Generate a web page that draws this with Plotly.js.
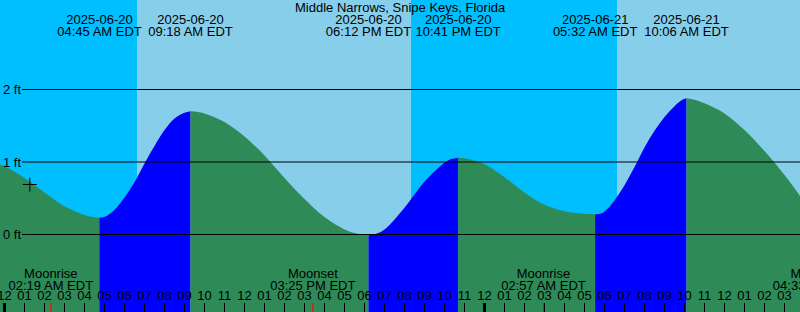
<!DOCTYPE html>
<html>
<head>
<meta charset="utf-8">
<script src="https://cdn.plot.ly/plotly-3.0.1.min.js"></script>
<style>html,body{margin:0;padding:0;background:#fff;}#chart{width:800px;height:312px;}</style>
</head>
<body>
<div id="chart"></div>
<script>
// ---------- data ----------
const stationName = 'Middle Narrows, Snipe Keys, Florida';

// tide extremes (labels at top)
const tideEventTimes = ['2025-06-20 04:45','2025-06-20 09:18','2025-06-20 18:12','2025-06-20 22:41','2025-06-21 05:32','2025-06-21 10:06'];
const tideEventDates = ['2025-06-20','2025-06-20','2025-06-20','2025-06-20','2025-06-21','2025-06-21'];
const tideEventClock = ['04:45 AM EDT','09:18 AM EDT','06:12 PM EDT','10:41 PM EDT','05:32 AM EDT','10:06 AM EDT'];

// moon events (labels at bottom)
const moonTimes = ['2025-06-20 02:19','2025-06-20 15:25','2025-06-21 02:57','2025-06-21 16:33'];
const moonNames = ['Moonrise','Moonset','Moonrise','Moonset'];
const moonClock = ['02:19 AM EDT','03:25 PM EDT','02:57 AM EDT','04:33 PM EDT'];

// sun: boundaries of night/day bands
const bandStarts = ['2025-06-19 23:00','2025-06-20 06:37:30','2025-06-20 20:19:30','2025-06-21 06:37:30'];
const bandEnds   = ['2025-06-20 06:37:30','2025-06-20 20:19:30','2025-06-21 06:37:30','2025-06-21 17:00'];
const bandIsDay  = [false, true, false, true];

const midnights = ['2025-06-20 00:00','2025-06-21 00:00'];
const heightTicks = [0, 1, 2];

// tide curve, split at each extreme (rising = flood, falling = ebb)
const segTimes = [
  ['2025-06-19 23:45','2025-06-20 00:00','2025-06-20 01:00','2025-06-20 02:00','2025-06-20 03:00','2025-06-20 04:00','2025-06-20 04:25','2025-06-20 04:45'],
  ['2025-06-20 04:45','2025-06-20 05:05','2025-06-20 05:30','2025-06-20 06:00','2025-06-20 06:30','2025-06-20 07:00','2025-06-20 07:30','2025-06-20 08:00','2025-06-20 08:30','2025-06-20 09:00','2025-06-20 09:18'],
  ['2025-06-20 09:18','2025-06-20 09:40','2025-06-20 10:00','2025-06-20 11:00','2025-06-20 12:00','2025-06-20 13:00','2025-06-20 14:00','2025-06-20 15:00','2025-06-20 16:00','2025-06-20 17:00','2025-06-20 17:40','2025-06-20 18:12'],
  ['2025-06-20 18:12','2025-06-20 18:35','2025-06-20 19:00','2025-06-20 20:00','2025-06-20 21:00','2025-06-20 22:00','2025-06-20 22:20','2025-06-20 22:41'],
  ['2025-06-20 22:41','2025-06-20 23:00','2025-06-21 00:00','2025-06-21 01:00','2025-06-21 02:00','2025-06-21 03:00','2025-06-21 04:00','2025-06-21 05:00','2025-06-21 05:32'],
  ['2025-06-21 05:32','2025-06-21 05:50','2025-06-21 06:10','2025-06-21 06:30','2025-06-21 07:00','2025-06-21 07:30','2025-06-21 08:00','2025-06-21 08:30','2025-06-21 09:00','2025-06-21 09:30','2025-06-21 09:50','2025-06-21 10:06'],
  ['2025-06-21 10:06','2025-06-21 10:30','2025-06-21 11:00','2025-06-21 12:00','2025-06-21 13:00','2025-06-21 14:00','2025-06-21 15:00','2025-06-21 15:50']
];
const segHeights = [
  [0.97,0.94,0.78,0.58,0.39,0.27,0.24,0.23],
  [0.23,0.25,0.34,0.51,0.72,0.98,1.22,1.44,1.60,1.68,1.70],
  [1.70,1.69,1.67,1.55,1.35,1.09,0.78,0.49,0.24,0.07,0.01,-0.01],
  [-0.01,0.01,0.07,0.37,0.73,0.99,1.04,1.06],
  [1.06,1.05,0.97,0.79,0.58,0.41,0.32,0.285,0.28],
  [0.28,0.29,0.36,0.47,0.68,0.93,1.20,1.43,1.62,1.77,1.85,1.88],
  [1.88,1.86,1.81,1.67,1.44,1.15,0.82,0.51]
];
const segRising = [false,true,false,true,false,true,false];

// "+" marker
const markTime = ['2025-06-20 01:16'];
const markHeight = [0.69];

// ---------- styling ----------
const FONT = 'Liberation Sans, Arial, sans-serif';
const NIGHT = '#00BFFF', DAY = '#87CEEB', EBB = '#2E8B57', FLOOD = '#0000FF';
const BOTTOM = -3;

const traces = [];
segTimes.forEach((t, i) => {
  const col = segRising[i] ? FLOOD : EBB;
  traces.push({x:[t[0], t[t.length-1]], y:[BOTTOM, BOTTOM], mode:'lines', line:{width:0}, hoverinfo:'skip', showlegend:false});
  traces.push({x:t, y:segHeights[i], mode:'lines', line:{width:0, shape:'spline', color:col}, fill:'tonexty', fillcolor:col, hoverinfo:'skip', showlegend:false});
});

traces.push({x:markTime, y:markHeight, mode:'markers', marker:{symbol:'cross-thin', size:10, line:{width:1, color:'#000'}}, showlegend:false, hoverinfo:'skip'});

// text rows on a pixel-scaled overlay axis
function textRow(xs, texts, ypx) {
  return {x:xs, y:xs.map(() => ypx), text:texts, mode:'text', textposition:'middle center',
          textfont:{family:FONT, size:13, color:'#000'}, yaxis:'y2', showlegend:false, hoverinfo:'skip', cliponaxis:true};
}
traces.push(textRow(tideEventTimes, tideEventDates, 20.8));
traces.push(textRow(tideEventTimes, tideEventClock, 32.9));
traces.push(textRow(moonTimes, moonNames, 275));
traces.push(textRow(moonTimes, moonClock, 286.5));

const shapes = [];
bandStarts.forEach((s, i) => shapes.push({type:'rect', xref:'x', yref:'paper', x0:s, x1:bandEnds[i], y0:0, y1:1,
  fillcolor: bandIsDay[i] ? DAY : NIGHT, line:{width:0}, layer:'below'}));
heightTicks.forEach(v => shapes.push({type:'line', xref:'paper', yref:'y', x0:0.0275, x1:1, y0:v, y1:v, line:{color:'#000', width:1}, layer:'above'}));
midnights.forEach(m => shapes.push({type:'line', xref:'x', yref:'paper', ysizemode:'pixel', yanchor:0, x0:m, x1:m, y0:0, y1:9, line:{color:'#000', width:3}, layer:'above'}));
moonTimes.forEach(m => shapes.push({type:'line', xref:'x', yref:'paper', ysizemode:'pixel', yanchor:0, x0:m, x1:m, y0:0, y1:9, line:{color:'#FF0000', width:1}, layer:'above'}));

const annotations = heightTicks.map(v => ({xref:'paper', yref:'y', x:0, y:v, xanchor:'left', yanchor:'middle', xshift:1,
  text: v + ' ft', showarrow:false, font:{family:FONT, size:13, color:'#000'}}));
annotations.push({xref:'paper', yref:'paper', x:0.5, y:1, yanchor:'top', xanchor:'center', yshift:2, text:stationName, showarrow:false,
  font:{family:FONT, size:13, color:'#000'}});

const layout = {
  width:800, height:312, margin:{l:0, r:0, t:0, b:0, pad:0},
  paper_bgcolor:'#fff', plot_bgcolor:NIGHT, showlegend:false,
  xaxis:{type:'date', range:['2025-06-19 23:46:30','2025-06-21 15:46:30'], tick0:'2025-06-20 00:00', dtick:3600000,
         tickformat:'%I', ticks:'inside', ticklen:9, tickwidth:1, tickcolor:'#000', ticklabelposition:'inside',
         ticklabeloverflow:'allow', tickfont:{family:FONT, size:13, color:'#000'}, showgrid:false, zeroline:false, showline:false, fixedrange:true},
  yaxis:{range:[-1.069, 3.2345], showgrid:false, zeroline:false, showticklabels:false, ticks:'', fixedrange:true},
  yaxis2:{range:[312, 0], overlaying:'y', visible:false, fixedrange:true},
  shapes:shapes, annotations:annotations
};

Plotly.newPlot('chart', traces, layout, {staticPlot:true, displayModeBar:false});
</script>
</body>
</html>
